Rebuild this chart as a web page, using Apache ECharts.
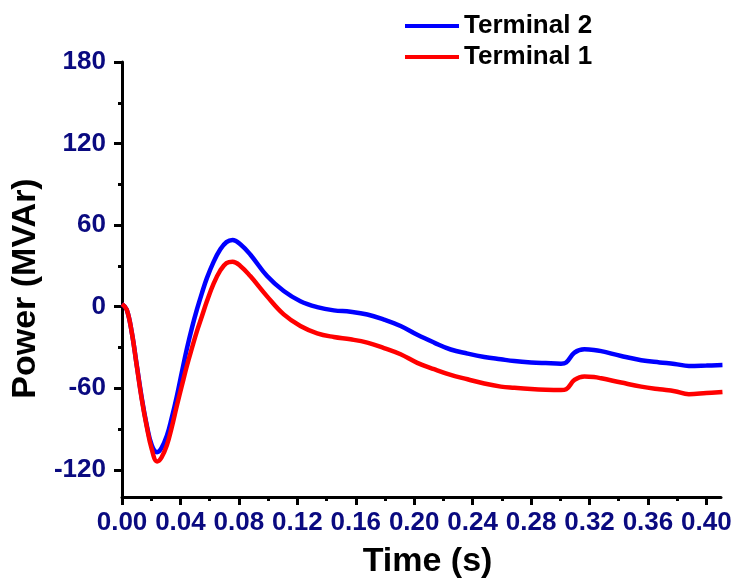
<!DOCTYPE html>
<html>
<head>
<meta charset="utf-8">
<script src="https://cdn.jsdelivr.net/npm/echarts@6/dist/echarts.min.js"></script>
<style>html,body{margin:0;padding:0;background:#fff}#chart{width:734px;height:580px}</style>
</head>
<body>
<div id="chart"></div>
<script>
// Time (s) sample points
const time = [0, 0.0032, 0.0067, 0.0101, 0.0135, 0.0169, 0.0204, 0.0240, 0.0270, 0.0307, 0.0340, 0.0375, 0.0410, 0.0444, 0.0480, 0.0513, 0.0547, 0.0581, 0.0627, 0.0672, 0.0715, 0.0757, 0.0810, 0.0878, 0.0993, 0.1107, 0.1221, 0.1336, 0.1450, 0.1564, 0.1679, 0.1793, 0.1907, 0.2021, 0.2136, 0.2250, 0.2365, 0.2480, 0.2593, 0.2685, 0.2800, 0.2900, 0.3005, 0.3040, 0.3097, 0.3165, 0.3230, 0.3280, 0.3417, 0.3554, 0.3680, 0.3783, 0.3880, 0.4000, 0.4110];
// Terminal 2 reactive power (MVAr)
const terminal2 = [2, -2, -19, -43, -67, -87, -102, -107, -104, -95, -82, -66, -48, -31, -15, -2, 10, 21, 33, 42, 47.5, 49, 46, 38.4, 22.5, 11.5, 4, -0.3, -2.7, -3.7, -5.7, -9.5, -14.2, -20.7, -26.4, -31.5, -34.5, -37, -38.7, -40, -41, -41.5, -41.9, -41, -33.8, -31.4, -31.8, -32.7, -36.3, -39.4, -41, -42.1, -43.6, -43.3, -42.9];
// Terminal 1 reactive power (MVAr)
const terminal1 = [2, -2, -19, -43.6, -68, -88, -105, -113.8, -111, -102, -89, -73, -58, -43.6, -30, -18, -7, 4, 17, 26.5, 32, 33, 30, 22.5, 7.6, -5.7, -14.2, -19.6, -22.3, -24, -26.4, -30.4, -35, -41.3, -46, -50.2, -53.4, -56.5, -58.8, -59.7, -60.6, -61.1, -61.3, -60.7, -53.9, -51.4, -51.8, -52.7, -55.8, -58.8, -60.8, -62.2, -64.4, -63.5, -62.7];
const xMajorTicks = [0, 0.04, 0.08, 0.12, 0.16, 0.20, 0.24, 0.28, 0.32, 0.36, 0.40];
const xMinorTicks = [0.02, 0.06, 0.10, 0.14, 0.18, 0.22, 0.26, 0.30, 0.34, 0.38];
const yMajorTicks = [-120, -60, 0, 60, 120, 180];
const yMinorTicks = [-90, -30, 30, 90, 150];

const navy = '#0a0a80';
const font = '"Liberation Sans", Arial, sans-serif';
const chart = echarts.init(document.getElementById('chart'));
const pair = (xs, ys) => xs.map((x, i) => [x, ys[i]]);

chart.setOption({
  animation: false,
  grid: { left: 122, right: 13, top: 62, bottom: 83, containLabel: false, outerBoundsMode: 'none' },
  legend: {
    orient: 'vertical', left: 400, top: 8,
    itemWidth: 54, itemHeight: 4, itemGap: 5, icon: 'rect',
    textStyle: { fontFamily: font, fontWeight: 'bold', fontSize: 26, color: '#000', lineHeight: 26 },
    data: ['Terminal 2', 'Terminal 1']
  },
  xAxis: [{
    type: 'value', min: 0, max: 0.41,
    name: 'Time (s)', nameLocation: 'middle', nameGap: 48,
    nameTextStyle: { fontFamily: font, fontWeight: 'bold', fontSize: 34, color: '#000', padding: [0, 0, 0, 12] },
    axisLine: { show: true, onZero: false, lineStyle: { color: '#000', width: 3 } },
    axisTick: { show: true, inside: false, length: 8, lineStyle: { width: 3, color: '#000' }, customValues: xMajorTicks },
    axisLabel: { show: true, customValues: xMajorTicks, formatter: v => v.toFixed(2), margin: 13,
      fontFamily: font, fontWeight: 'bold', fontSize: 26, color: navy },
    splitLine: { show: false }
  }, {
    type: 'value', min: 0, max: 0.41, position: 'bottom',
    axisLine: { show: false, onZero: false },
    axisTick: { show: true, length: 4, lineStyle: { width: 3, color: '#000' }, customValues: xMinorTicks },
    axisLabel: { show: false },
    splitLine: { show: false }
  }],
  yAxis: [{
    type: 'value', min: -140, max: 180,
    name: 'Power (MVAr)', nameLocation: 'middle', nameGap: 69, nameRotate: 90,
    nameTextStyle: { fontFamily: font, fontWeight: 'bold', fontSize: 34, color: '#000', padding: [0, 0, 0, -18] },
    axisLine: { show: true, onZero: false, lineStyle: { color: '#000', width: 3 } },
    axisTick: { show: true, length: 8, lineStyle: { width: 3, color: '#000' }, customValues: yMajorTicks },
    axisLabel: { show: true, customValues: yMajorTicks, margin: 16,
      fontFamily: font, fontWeight: 'bold', fontSize: 26, color: navy },
    splitLine: { show: false }
  }, {
    type: 'value', min: -140, max: 180, position: 'left',
    axisLine: { show: false, onZero: false },
    axisTick: { show: true, length: 4, lineStyle: { width: 3, color: '#000' }, customValues: yMinorTicks },
    axisLabel: { show: false },
    splitLine: { show: false }
  }],
  series: [{
    name: 'Terminal 2', type: 'line', xAxisIndex: 0, yAxisIndex: 0,
    data: pair(time, terminal2), smooth: 0.4, symbol: 'none',
    lineStyle: { color: '#0000ff', width: 4.5 }, itemStyle: { color: '#0000ff' }
  }, {
    name: 'Terminal 1', type: 'line', xAxisIndex: 0, yAxisIndex: 0,
    data: pair(time, terminal1), smooth: 0.4, symbol: 'none',
    lineStyle: { color: '#ff0000', width: 4.5 }, itemStyle: { color: '#ff0000' }
  }]
});
</script>
</body>
</html>
